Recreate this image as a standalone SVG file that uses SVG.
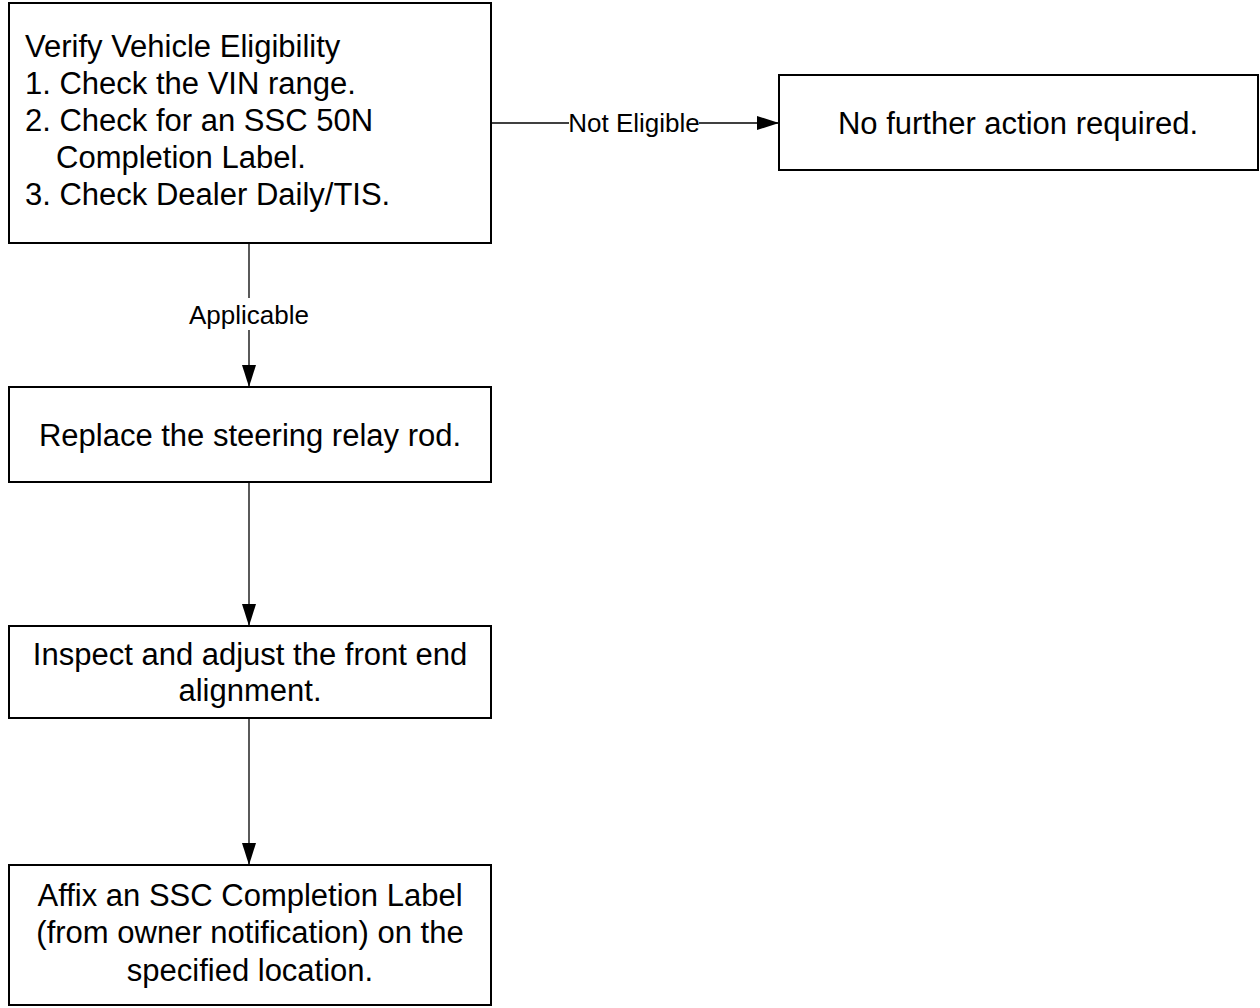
<svg xmlns="http://www.w3.org/2000/svg" width="1260" height="1008" viewBox="0 0 1260 1008">
<defs>
<style>
.box{fill:#fff;stroke:#000;stroke-width:2}
.t{font-family:"Liberation Sans",Arial,sans-serif;font-size:31px;fill:#000}
.c{text-anchor:middle}
.lbl{font-family:"Liberation Sans",Arial,sans-serif;font-size:26px;fill:#000;text-anchor:middle}
.ln{fill:none;stroke:#000;stroke-width:1.3}
</style>
<marker id="ah" viewBox="0 0 22 14" refX="22" refY="7" markerWidth="22" markerHeight="14" markerUnits="userSpaceOnUse" orient="auto">
<path d="M0,0 L22,7 L0,14 Z" fill="#000"/>
</marker>
</defs>
<rect width="1260" height="1008" fill="#fff"/>
<g id="connectors">
<path class="ln" d="M491,123 H779" marker-end="url(#ah)"/>
<rect x="569" y="106" width="130" height="32" fill="#fff"/>
<text class="lbl" x="634" y="132">Not Eligible</text>
<path class="ln" d="M249,243 V387" marker-end="url(#ah)"/>
<rect x="186" y="298" width="126" height="32" fill="#fff"/>
<text class="lbl" x="249" y="324">Applicable</text>
<path class="ln" d="M249,482 V626" marker-end="url(#ah)"/>
<path class="ln" d="M249,718 V865" marker-end="url(#ah)"/>
</g>
<g id="n1">
<rect class="box" x="9" y="3" width="482" height="240"/>
<text class="t" x="25" y="57">Verify Vehicle Eligibility</text>
<text class="t" x="25" y="94">1. Check the VIN range.</text>
<text class="t" x="25" y="131">2. Check for an SSC 50N</text>
<text class="t" x="56" y="168">Completion Label.</text>
<text class="t" x="25" y="205">3. Check Dealer Daily/TIS.</text>
</g>
<g id="n2">
<rect class="box" x="779" y="75" width="479" height="95"/>
<text class="t c" x="1018" y="134">No further action required.</text>
</g>
<g id="n3">
<rect class="box" x="9" y="387" width="482" height="95"/>
<text class="t c" x="250" y="446">Replace the steering relay rod.</text>
</g>
<g id="n4">
<rect class="box" x="9" y="626" width="482" height="92"/>
<text class="t c" x="250" y="665">Inspect and adjust the front end</text>
<text class="t c" x="250" y="701">alignment.</text>
</g>
<g id="n5">
<rect class="box" x="9" y="865" width="482" height="140"/>
<text class="t c" x="250" y="906">Affix an SSC Completion Label</text>
<text class="t c" x="250" y="943">(from owner notification) on the</text>
<text class="t c" x="250" y="981">specified location.</text>
</g>
</svg>
